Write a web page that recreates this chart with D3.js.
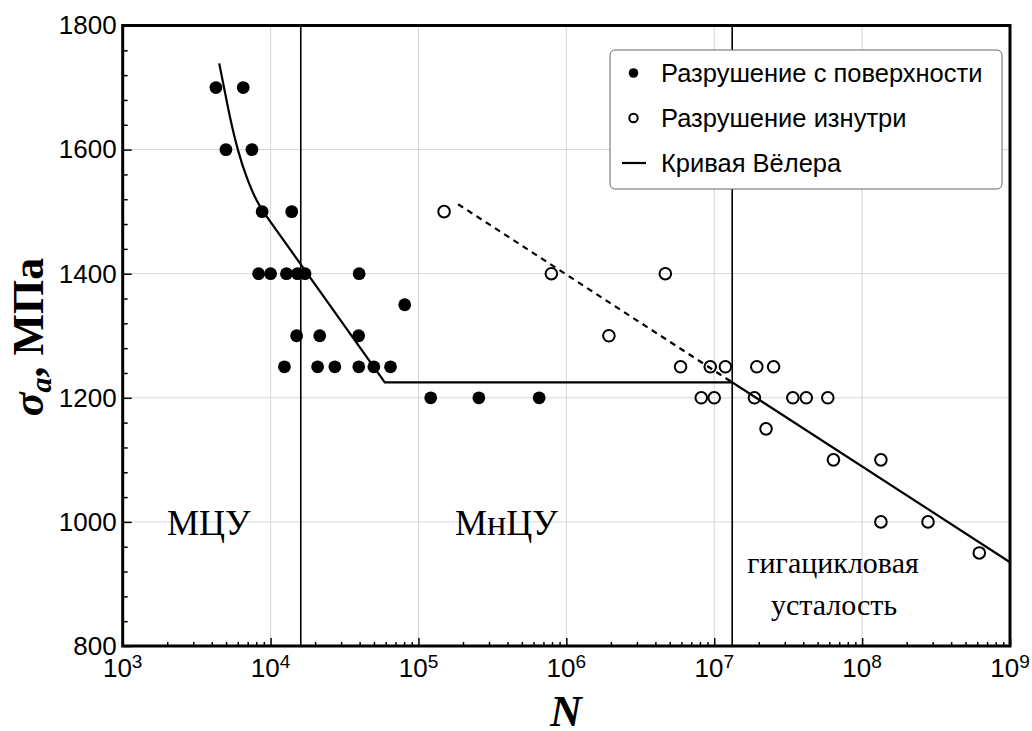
<!DOCTYPE html>
<html lang="ru">
<head>
<meta charset="UTF-8">
<title>Wöhler curve</title>
<script src="https://cdn.jsdelivr.net/npm/d3@7"></script>
<style>
    body { margin: 0; background: #fff; }
    svg { display: block; }
    .tick-label { font: 26px "Liberation Sans", Arial, sans-serif; fill: #000; }
    .legend-text { font: 25.5px "Liberation Sans", Arial, sans-serif; fill: #000; }
    .region { font: 36px "Liberation Serif", "Times New Roman", serif; fill: #000; }
    .region.small { font-size: 30px; }
</style>
</head>
<body>
<script>
    const width = 1032;
    const height = 731;

    // surface failures (filled)
    const surfaceN = [4270, 6530, 4990, 7480, 8770, 13900,
        8300, 10000, 12800, 15200, 17100, 39700, 80700,
        15000, 21500, 39400,
        12400, 20800, 27200, 39500, 49900, 64700,
        121000, 256000, 655000];
    const surfaceS = [1700, 1700, 1600, 1600, 1500, 1500,
        1400, 1400, 1400, 1400, 1400, 1400, 1350,
        1300, 1300, 1300,
        1250, 1250, 1250, 1250, 1250, 1250,
        1200, 1200, 1200];

    // internal failures (open)
    const internalN = [1.49e5, 7.92e5, 4.67e6, 1.94e6,
        5.92e6, 9.4e6, 1.19e7, 1.94e7, 2.52e7,
        8.17e6, 1.0e7, 1.87e7, 3.4e7, 4.19e7, 5.86e7,
        2.24e7, 6.4e7, 1.34e8, 1.34e8, 2.79e8, 6.2e8];
    const internalS = [1500, 1400, 1400, 1300,
        1250, 1250, 1250, 1250, 1250,
        1200, 1200, 1200, 1200, 1200, 1200,
        1150, 1100, 1100, 1000, 1000, 950];

    // Wöhler curve: curved LCF part, then straight pieces
    const curveN = [4494, 4836, 5309, 6040, 6883, 7832, 8913];
    const curveS = [1739, 1701, 1653, 1598, 1556, 1524, 1500];
    const straightN = [8913, 59200, 1.323e7, 1e9];
    const straightS = [1500, 1225, 1225, 935];

    const dashN = [1.852e5, 1.323e7];
    const dashS = [1512, 1225];

    const boundaryN = [1.6e4, 1.323e7];

    const xMajor = [1e3, 1e4, 1e5, 1e6, 1e7, 1e8, 1e9];
    const xExp = ["3", "4", "5", "6", "7", "8", "9"];
    const yMajor = [800, 1000, 1200, 1400, 1600, 1800];

    const legendLabels = ["Разрушение с поверхности", "Разрушение изнутри", "Кривая Вёлера"];

    const pLeft = 122.7, pRight = 1010, pTop = 25.5, pBottom = 646;

    const x = d3.scaleLog().domain([1e3, 1e9]).range([pLeft, pRight]);
    const y = d3.scaleLinear().domain([800, 1800]).range([pBottom, pTop]);

    const svg = d3.select("body").append("svg").attr("width", width).attr("height", height);

    // grid
    const grid = svg.append("g").attr("stroke", "#d6d6d6").attr("stroke-width", 1);
    grid.selectAll(".gx").data(xMajor.slice(1, -1)).join("line")
        .attr("x1", d => x(d)).attr("x2", d => x(d)).attr("y1", pTop).attr("y2", pBottom);
    grid.selectAll(".gy").data(yMajor.slice(1, -1)).join("line")
        .attr("x1", pLeft).attr("x2", pRight).attr("y1", d => y(d)).attr("y2", d => y(d));

    // minor ticks
    const xMinor = [];
    xMajor.slice(0, -1).forEach(p => { for (let m = 2; m <= 9; m++) xMinor.push(m * p); });
    const yMinor = d3.range(840, 1800, 40).filter(v => v % 200 !== 0);

    const gx = svg.append("g").attr("transform", `translate(0,${pBottom})`);
    gx.call(d3.axisBottom(x).tickValues(xMinor).tickSize(-4).tickFormat(""));
    gx.call(g => g.select(".domain").remove());
    const gx2 = svg.append("g").attr("transform", `translate(0,${pBottom})`);
    gx2.call(d3.axisBottom(x).tickValues(xMajor).tickSize(-8).tickFormat(""));
    gx2.call(g => g.select(".domain").remove());

    const gy = svg.append("g").attr("transform", `translate(${pLeft},0)`);
    gy.call(d3.axisLeft(y).tickValues(yMinor).tickSize(-5).tickFormat(""));
    gy.call(g => g.select(".domain").remove());
    const gy2 = svg.append("g").attr("transform", `translate(${pLeft},0)`);
    gy2.call(d3.axisLeft(y).tickValues(yMajor).tickSize(-9).tickPadding(6).tickFormat(d3.format("d")));
    gy2.call(g => g.select(".domain").remove());
    gy2.attr("font-size", null).attr("font-family", null);
    gy2.selectAll(".tick text").attr("class", "tick-label");
    svg.selectAll(".tick line").attr("stroke", "#000").attr("stroke-width", 1.5);

    // x labels 10^k
    const xl = svg.append("g").selectAll("text").data(xMajor).join("text")
        .attr("class", "tick-label")
        .attr("x", d => x(d)).attr("y", 677)
        .attr("text-anchor", "middle");
    xl.append("tspan").text("10");
    xl.append("tspan").attr("dy", -9).attr("font-size", 19).text((d, i) => xExp[i]);

    // regime boundaries
    svg.append("g").selectAll("line").data(boundaryN).join("line")
        .attr("x1", d => x(d)).attr("x2", d => x(d)).attr("y1", pTop).attr("y2", pBottom)
        .attr("stroke", "#000").attr("stroke-width", 1.6);

    // region labels
    svg.append("text").attr("class", "region").attr("x", 167).attr("y", 535).text("МЦУ");
    svg.append("text").attr("class", "region").attr("x", 455).attr("y", 535).text("МнЦУ");
    svg.append("text").attr("class", "region small").attr("x", 833).attr("y", 573).attr("text-anchor", "middle").text("гигацикловая");
    svg.append("text").attr("class", "region small").attr("x", 834).attr("y", 615).attr("text-anchor", "middle").text("усталость");

    // points
    svg.append("g").selectAll("circle").data(surfaceN).join("circle")
        .attr("cx", d => x(d)).attr("cy", (d, i) => y(surfaceS[i])).attr("r", 6.4).attr("fill", "#000");
    svg.append("g").selectAll("circle").data(internalN).join("circle")
        .attr("cx", d => x(d)).attr("cy", (d, i) => y(internalS[i])).attr("r", 5.8)
        .attr("fill", "none").attr("stroke", "#000").attr("stroke-width", 2);

    // curves
    const curveLine = d3.line().x(d => x(d[0])).y(d => y(d[1])).curve(d3.curveNatural);
    const linLine = d3.line().x(d => x(d[0])).y(d => y(d[1]));
    svg.append("path").attr("d", curveLine(curveN.map((n, i) => [n, curveS[i]])))
        .attr("fill", "none").attr("stroke", "#000").attr("stroke-width", 2.2);
    svg.append("path").attr("d", linLine(straightN.map((n, i) => [n, straightS[i]])))
        .attr("fill", "none").attr("stroke", "#000").attr("stroke-width", 2.2);
    svg.append("path").attr("d", linLine(dashN.map((n, i) => [n, dashS[i]])))
        .attr("fill", "none").attr("stroke", "#000").attr("stroke-width", 2.2)
        .attr("stroke-dasharray", "6,5");

    // frame
    svg.append("rect").attr("x", pLeft).attr("y", pTop).attr("width", pRight - pLeft).attr("height", pBottom - pTop)
        .attr("fill", "none").attr("stroke", "#000").attr("stroke-width", 3);

    // legend
    const lg = svg.append("g");
    lg.append("rect").attr("x", 610).attr("y", 50).attr("width", 392).attr("height", 139).attr("rx", 5)
        .attr("fill", "#fff").attr("stroke", "#666").attr("stroke-width", 1);
    const rows = [73, 118, 163];
    lg.append("circle").attr("cx", 633.5).attr("cy", rows[0]).attr("r", 4.8).attr("fill", "#000");
    lg.append("circle").attr("cx", 633.5).attr("cy", rows[1]).attr("r", 4.2)
        .attr("fill", "none").attr("stroke", "#000").attr("stroke-width", 2);
    lg.append("line").attr("x1", 622).attr("x2", 646).attr("y1", rows[2]).attr("y2", rows[2])
        .attr("stroke", "#000").attr("stroke-width", 2.2);
    lg.selectAll("text").data(legendLabels).join("text")
        .attr("class", "legend-text").attr("x", 661).attr("y", (d, i) => rows[i]).attr("dy", "0.35em")
        .text(d => d);

    // axis titles
    svg.append("text").attr("x", 566).attr("y", 726)
        .attr("text-anchor", "middle")
        .attr("font-family", "'Liberation Serif', 'Times New Roman', serif")
        .attr("font-size", 44).attr("font-weight", "bold").attr("font-style", "italic")
        .text("N");

    const yt = svg.append("text")
        .attr("transform", "translate(43,337) rotate(-90)")
        .attr("text-anchor", "middle")
        .attr("font-family", "'Liberation Serif', 'Times New Roman', serif")
        .attr("font-size", 44).attr("font-weight", "bold");
    yt.append("tspan").attr("font-style", "italic").text("σ");
    yt.append("tspan").attr("font-style", "italic").attr("font-size", 30).attr("dy", 8).text("a");
    yt.append("tspan").attr("dy", -8).text(", МПа");
</script>
</body>
</html>
